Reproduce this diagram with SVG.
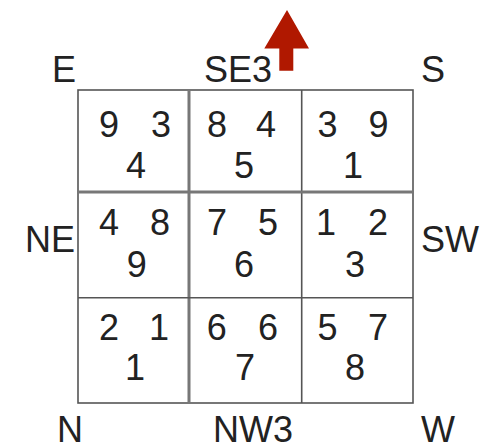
<svg xmlns="http://www.w3.org/2000/svg" width="482" height="446" viewBox="0 0 482 446">
<style>
  text { font-family: "Liberation Sans", Arial, sans-serif; fill: #222; }
  .lbl { font-size: 36px; }
  .num { font-size: 36px; text-anchor: middle; }
  .thin { stroke: #555; stroke-width: 1.6; fill: none; }
  .thick { stroke: #777; stroke-width: 3; fill: none; }
</style>
<rect x="0" y="0" width="482" height="446" fill="#fff"/>
<g id="grid">
  <rect class="thin" x="78" y="90" width="335" height="313"/>
  <line class="thick" x1="189" y1="90" x2="189" y2="403"/>
  <line class="thin" x1="301.7" y1="90" x2="301.7" y2="403"/>
  <line class="thick" x1="78" y1="192" x2="413" y2="192"/>
  <line class="thin" x1="78" y1="297.7" x2="413" y2="297.7"/>
</g>
<g id="labels">
  <text class="lbl" x="52" y="82">E</text>
  <text class="lbl" x="204" y="82">SE3</text>
  <text class="lbl" x="421" y="82">S</text>
  <text class="lbl" x="25" y="252">NE</text>
  <text class="lbl" x="421" y="252">SW</text>
  <text class="lbl" x="57" y="442">N</text>
  <text class="lbl" x="213" y="442">NW3</text>
  <text class="lbl" x="421" y="442">W</text>
</g>
<g id="cell-se">
  <text class="num" x="109" y="137">9</text><text class="num" x="161" y="137">3</text><text class="num" x="136" y="178">4</text>
</g>
<g id="cell-s">
  <text class="num" x="217" y="137">8</text><text class="num" x="266" y="137">4</text><text class="num" x="244" y="178">5</text>
</g>
<g id="cell-sw">
  <text class="num" x="327.5" y="137">3</text><text class="num" x="378.5" y="137">9</text><text class="num" x="353" y="178">1</text>
</g>
<g id="cell-e">
  <text class="num" x="109" y="235">4</text><text class="num" x="160" y="235">8</text><text class="num" x="136.7" y="277">9</text>
</g>
<g id="cell-c">
  <text class="num" x="217" y="235">7</text><text class="num" x="268" y="235">5</text><text class="num" x="244" y="277">6</text>
</g>
<g id="cell-w">
  <text class="num" x="326" y="235">1</text><text class="num" x="378" y="235">2</text><text class="num" x="355" y="277">3</text>
</g>
<g id="cell-ne">
  <text class="num" x="109" y="340">2</text><text class="num" x="159" y="340">1</text><text class="num" x="135" y="380">1</text>
</g>
<g id="cell-n">
  <text class="num" x="216.7" y="340">6</text><text class="num" x="268" y="340">6</text><text class="num" x="245" y="380">7</text>
</g>
<g id="cell-nw">
  <text class="num" x="327.5" y="340">5</text><text class="num" x="378" y="340">7</text><text class="num" x="355" y="380">8</text>
</g>
<g id="connectors">
  <polygon id="arrow" points="287,10 309,48.5 293.3,48.5 293.3,70.7 279.3,70.7 279.3,48.5 264.3,48.5" fill="#B01800"/>
</g>
</svg>
